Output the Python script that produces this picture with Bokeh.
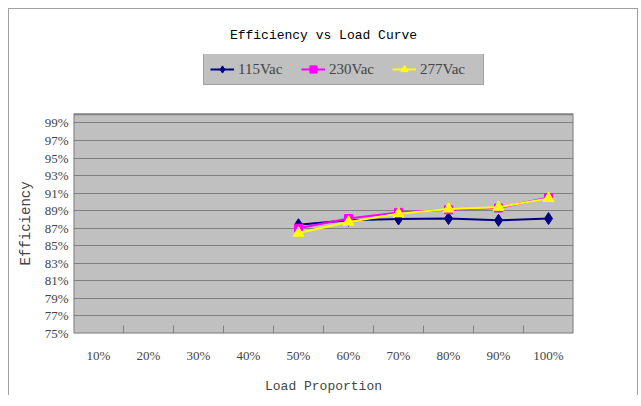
from bokeh.plotting import figure
from bokeh.models import (Range1d, FactorRange, CategoricalAxis, FixedTicker, ColumnDataSource,
                          Legend, LegendItem, PrintfTickFormatter)
from bokeh.transform import dodge
from bokeh.embed import file_html
from bokeh.resources import INLINE

categories = ["10%", "20%", "30%", "40%", "50%", "60%", "70%", "80%", "90%", "100%"]
load_points = ["50%", "60%", "70%", "80%", "90%", "100%"]
eff_115 = [87.4, 87.9, 88.05, 88.1, 87.9, 88.1]
eff_230 = [87.0, 88.1, 88.8, 89.1, 89.3, 90.5]
eff_277 = [86.45, 87.7, 88.65, 89.2, 89.4, 90.4]
y_ticks = [75, 77, 79, 81, 83, 85, 87, 89, 91, 93, 95, 97, 99]
Y_MIN, Y_MAX = 75, 100
HEADROOM = 6.8   # room above the plot area for the legend

SERIF = "Liberation Serif"
MONO = "Liberation Mono"

p = figure(width=630, height=387, output_backend="svg", toolbar_location=None,
           x_range=FactorRange(factors=categories), y_range=Range1d(Y_MIN, Y_MAX + HEADROOM),
           x_axis_location=None, y_axis_location="left",
           min_border_left=64, min_border_right=66, min_border_top=45, min_border_bottom=62)
p.styles = {"margin-left": "8px", "margin-top": "8px",
            "border-left": "1px solid #a0a0a0", "border-top": "1px solid #a0a0a0",
            "border-right": "1px solid #a0a0a0"}
p.background_fill_color = "white"
p.border_fill_color = "white"
p.outline_line_color = None

p.title.text = "Efficiency vs Load Curve"
p.title.align = "center"
p.title.text_font = MONO
p.title.text_font_size = "13px"
p.title.text_font_style = "normal"
p.title.text_color = "black"
p.title.standoff = 23

# plot area (gray panel with border)
area = ColumnDataSource(data=dict(first=[categories[0]], last=[categories[-1]]))
p.quad(left=dodge("first", -0.5, range=p.x_range), right=dodge("last", 0.5, range=p.x_range),
       bottom=Y_MIN, top=Y_MAX, source=area, fill_color="#c0c0c0",
       line_color="#808080", line_width=2, level="image")

# y axis
ya = p.yaxis[0]
ya.ticker = FixedTicker(ticks=y_ticks)
ya.formatter = PrintfTickFormatter(format="%d%%")
ya.axis_line_color = None
ya.major_tick_line_color = None
ya.major_tick_out = 0
ya.major_tick_in = 0
ya.minor_tick_line_color = None
ya.minor_tick_out = 0
ya.major_label_text_font = SERIF
ya.major_label_text_font_size = "13px"
ya.major_label_standoff = 5
ya.axis_label = "Efficiency" + "\u00a0" * 7
ya.axis_label_text_font = MONO
ya.axis_label_text_font_size = "14px"
ya.axis_label_text_font_style = "normal"
ya.axis_label_standoff = 8

p.ygrid.ticker = FixedTicker(ticks=y_ticks[1:])
p.ygrid.grid_line_color = "#808080"
p.ygrid.grid_line_width = 1
p.xgrid.grid_line_color = None

xa = CategoricalAxis(major_tick_line_color=None, major_tick_out=0, major_tick_in=0,
                     axis_line_color=None,
                     major_label_text_font=SERIF, major_label_text_font_size="13px",
                     major_label_standoff=14,
                     axis_label="Load Proportion", axis_label_text_font=MONO,
                     axis_label_text_font_size="13px", axis_label_text_font_style="normal",
                     axis_label_standoff=13)
p.add_layout(xa, "below")

# inward tick marks on the category boundaries
bounds = ColumnDataSource(data=dict(cat=categories[1:]))
p.segment(x0=dodge("cat", -0.5, range=p.x_range), x1=dodge("cat", -0.5, range=p.x_range),
          y0=Y_MIN, y1=Y_MIN + 0.9, source=bounds, line_color="#808080", line_width=1)

l1 = p.line(load_points, eff_115, line_color="#000080", line_width=2)
m1 = p.scatter(load_points, eff_115, marker="diamond", size=12, fill_color="#000080", line_color="#000080")
l2 = p.line(load_points, eff_230, line_color="#ff00ff", line_width=2)
m2 = p.scatter(load_points, eff_230, marker="square", size=8, fill_color="#ff00ff", line_color="#ff00ff")
l3 = p.line(load_points, eff_277, line_color="#ffff00", line_width=2)
m3 = p.scatter(load_points, eff_277, marker="triangle", size=11, fill_color="#ffff00", line_color="#ffff00")

legend = Legend(items=[LegendItem(label="115Vac", renderers=[l1, m1]),
                       LegendItem(label="230Vac", renderers=[l2, m2]),
                       LegendItem(label="277Vac", renderers=[l3, m3])],
                orientation="horizontal", location=(130, 248), margin=0,
                padding=6, spacing=6, glyph_width=24, glyph_height=18,
                label_standoff=4, label_width=57, label_height=18,
                label_text_font=SERIF, label_text_font_size="15px",
                background_fill_color="#c0c0c0", background_fill_alpha=1,
                border_line_color="#808080", border_line_width=1)
p.add_layout(legend, "center")

open("out.html", "w").write(file_html(p, INLINE))
